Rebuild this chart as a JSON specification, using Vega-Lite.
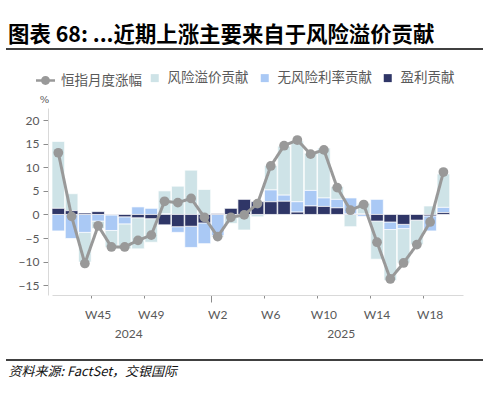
{
  "$schema": "https://vega.github.io/schema/vega-lite/v6.json",
  "width": 411,
  "height": 187,
  "autosize": {"type": "none"},
  "padding": {"left": 52, "top": 108, "right": 25, "bottom": 99},
  "background": "white",
  "config": {"view": {"stroke": null}, "font": "Lato"},
  "title": {
    "text": "图表 68: ...近期上涨主要来自于风险溢价贡献",
    "anchor": "start",
    "frame": "group",
    "dx": -44,
    "offset": -9,
    "baseline": "middle",
    "font": "Noto Sans CJK SC",
    "fontSize": 21.4,
    "fontWeight": "bold",
    "color": "#000000"
  },
  "datasets": {
    "weeks": [
      {"w": "W42", "hsi": 13.1, "风险溢价贡献": 14.2, "无风险利率贡献": -3.5, "盈利贡献": 1.3},
      {"w": "W43", "hsi": -0.4, "风险溢价贡献": 3.6, "无风险利率贡献": -5.1, "盈利贡献": 0.8},
      {"w": "W44", "hsi": -10.4, "风险溢价贡献": -6.3, "无风险利率贡献": -3.8, "盈利贡献": 0.3},
      {"w": "W45", "hsi": -2.4, "风险溢价贡献": -1.6, "无风险利率贡献": -1.4, "盈利贡献": 0.6},
      {"w": "W46", "hsi": -6.9, "风险溢价贡献": -3.6, "无风险利率贡献": -3.3, "盈利贡献": -0.1},
      {"w": "W47", "hsi": -6.9, "风险溢价贡献": -5.3, "无风险利率贡献": -1.5, "盈利贡献": -0.5},
      {"w": "W48", "hsi": -5.5, "风险溢价贡献": -6.6, "无风险利率贡献": 1.6, "盈利贡献": -0.7},
      {"w": "W49", "hsi": -4.4, "风险溢价贡献": -5.0, "无风险利率贡献": 1.3, "盈利贡献": -0.9},
      {"w": "W50", "hsi": 2.8, "风险溢价贡献": 4.8, "无风险利率贡献": 0.2, "盈利贡献": -2.2},
      {"w": "W51", "hsi": 2.5, "风险溢价贡献": 6.0, "无风险利率贡献": -1.2, "盈利贡献": -2.6},
      {"w": "W52", "hsi": 3.4, "风险溢价贡献": 9.4, "无风险利率贡献": -4.5, "盈利贡献": -2.5},
      {"w": "W1", "hsi": -0.6, "风险溢价贡献": 5.3, "无风险利率贡献": -4.4, "盈利贡献": -1.8},
      {"w": "W2", "hsi": -4.7, "风险溢价贡献": -0.3, "无风险利率贡献": -4.5, "盈利贡献": 0.2},
      {"w": "W3", "hsi": -0.6, "风险溢价贡献": -1.9, "无风险利率贡献": 0.0, "盈利贡献": 1.3},
      {"w": "W4", "hsi": -0.1, "风险溢价贡献": -3.3, "无风险利率贡献": 0.0, "盈利贡献": 3.2},
      {"w": "W5", "hsi": 2.3, "风险溢价贡献": -0.5, "无风险利率贡献": 0.0, "盈利贡献": 2.7},
      {"w": "W6", "hsi": 10.3, "风险溢价贡献": 5.2, "无风险利率贡献": 2.5, "盈利贡献": 2.7},
      {"w": "W7", "hsi": 14.6, "风险溢价贡献": 10.4, "无风险利率贡献": 1.3, "盈利贡献": 2.8},
      {"w": "W8", "hsi": 15.8, "风险溢价贡献": 12.9, "无风险利率贡献": 2.2, "盈利贡献": 0.5},
      {"w": "W9", "hsi": 12.8, "风险溢价贡献": 7.9, "无风险利率贡献": 3.3, "盈利贡献": 1.8},
      {"w": "W10", "hsi": 13.7, "风险溢价贡献": 10.6, "无风险利率贡献": 1.8, "盈利贡献": 1.7},
      {"w": "W11", "hsi": 5.7, "风险溢价贡献": 2.7, "无风险利率贡献": 1.8, "盈利贡献": 1.4},
      {"w": "W12", "hsi": 0.9, "风险溢价贡献": -2.6, "无风险利率贡献": 3.4, "盈利贡献": 0.1},
      {"w": "W13", "hsi": 2.1, "风险溢价贡献": 2.3, "无风险利率贡献": -0.4, "盈利贡献": 0.1},
      {"w": "W14", "hsi": -5.9, "风险溢价贡献": -8.1, "无风险利率贡献": 3.2, "盈利贡献": -1.4},
      {"w": "W15", "hsi": -13.7, "风险溢价贡献": -10.8, "无风险利率贡献": -1.6, "盈利贡献": -1.6},
      {"w": "W16", "hsi": -10.3, "风险溢价贡献": -7.3, "无风险利率贡献": -0.9, "盈利贡献": -2.1},
      {"w": "W17", "hsi": -6.4, "风险溢价贡献": -5.2, "无风险利率贡献": 0.0, "盈利贡献": -1.2},
      {"w": "W18", "hsi": -1.6, "风险溢价贡献": 1.8, "无风险利率贡献": -3.2, "盈利贡献": -0.3},
      {"w": "W19", "hsi": 9.0, "风险溢价贡献": 7.1, "无风险利率贡献": 1.1, "盈利贡献": 0.4}
    ],
    "ranks": [
      {"series": "盈利贡献", "rank": 1},
      {"series": "无风险利率贡献", "rank": 2},
      {"series": "风险溢价贡献", "rank": 3}
    ],
    "rules": [{"k": 0}, {"k": 1}]
  },
  "layer": [
    {
      "data": {"name": "weeks"},
      "layer": [
        {
          "transform": [
            {"fold": ["风险溢价贡献", "无风险利率贡献", "盈利贡献"], "as": ["series", "value"]},
            {"lookup": "series", "from": {"data": {"name": "ranks"}, "key": "series", "fields": ["rank"]}}
          ],
          "mark": {"type": "bar", "stroke": "white", "strokeWidth": 0.7},
          "encoding": {
            "x": {
              "field": "w", "type": "nominal", "sort": null,
              "title": "资料来源: FactSet，交银国际",
              "scale": {
                "domain": ["W42","W43","W44","W45","W46","W47","W48","W49","W50","W51","W52","W1","W2","W3","W4","W5","W6","W7","W8","W9","W10","W11","W12","W13","W14","W15","W16","W17","W18","W19","W20"],
                "paddingInner": 0.05, "paddingOuter": 0
              },
              "axis": {
                "values": ["W45","W47","W49","W2","W6","W10","W11","W14","W18"],
                "bandPosition": 0,
                "labelExpr": "datum.value === 'W47' ? '2024' : datum.value === 'W11' ? '2025' : datum.value",
                "labelAngle": 0,
                "labelAlign": "center",
                "labelBaseline": "middle",
                "labelOverlap": false,
                "labelBound": false,
                "labelFlush": false,
                "labelFont": "Lato",
                "labelFontSize": 12,
                "labelColor": "#595959",
                "labelOffset": {"condition": {"test": "datum.value === 'W47' || datum.value === 'W11'", "value": 4}, "value": 0},
                "labelPadding": {"condition": [
                  {"test": "datum.value === 'W47' || datum.value === 'W11'", "value": 35},
                  {"test": "datum.value === 'W2'", "value": 12}
                ], "value": 16},
                "tickSize": {"condition": {"test": "datum.value === 'W2'", "value": 7}, "value": 3},
                "tickOpacity": {"condition": {"test": "datum.value === 'W47' || datum.value === 'W11'", "value": 0}, "value": 1},
                "tickColor": "#8c8c8c",
                "tickWidth": 1,
                "domainColor": "#d9d9d9",
                "domainWidth": 1,
                "grid": false,
                "titleX": -44,
                "titleY": 76,
                "titleAlign": "left",
                "titleAnchor": "start",
                "titleBaseline": "middle",
                "titleFont": "Noto Sans CJK SC",
                "titleFontSize": 13,
                "titleFontStyle": "italic",
                "titleFontWeight": "normal",
                "titleColor": "#111111"
              }
            },
            "y": {
              "field": "value", "type": "quantitative", "title": "%",
              "scale": {"domain": [-17.1, 22.6], "nice": false, "zero": false},
              "axis": {
                "tickCount": 8,
                "offset": 4,
                "grid": false,
                "labelOverlap": false,
                "labelBound": false,
                "labelFlush": false,
                "labelFont": "Lato",
                "labelFontSize": 12,
                "labelColor": "#595959",
                "labelPadding": 4,
                "tickSize": 5,
                "tickColor": "#8c8c8c",
                "domainColor": "#d9d9d9",
                "titleAngle": 0,
                "titleX": -4,
                "titleY": -9,
                "titleAlign": "center",
                "titleBaseline": "middle",
                "titleFont": "DejaVu Serif",
                "titleFontSize": 10,
                "titleFontWeight": "normal",
                "titleColor": "#595959"
              }
            },
            "color": {
              "field": "series", "type": "nominal",
              "scale": {
                "domain": ["风险溢价贡献", "无风险利率贡献", "盈利贡献"],
                "range": ["#cee3e7", "#aac9f5", "#2f3667"]
              },
              "legend": {
                "orient": "none",
                "legendX": 96,
                "legendY": -37,
                "direction": "horizontal",
                "title": null,
                "labelFont": "Noto Sans CJK SC",
                "labelFontSize": 13.5,
                "labelColor": "#595959",
                "symbolType": "square",
                "symbolSize": 64,
                "symbolStrokeWidth": 0,
                "columnPadding": 9,
                "labelOffset": 6
              }
            },
            "order": {"field": "rank", "type": "quantitative"}
          }
        },
        {
          "mark": {"type": "line", "color": "#999999", "strokeWidth": 3, "point": {"filled": true, "size": 95, "opacity": 1, "color": "#999999"}},
          "encoding": {
            "x": {"field": "w", "type": "nominal", "sort": null, "title": "资料来源: FactSet，交银国际"},
            "y": {"field": "hsi", "type": "quantitative", "title": "%", "scale": {"domain": [-17.1, 22.6], "nice": false, "zero": false}},
            "strokeDash": {
              "datum": "恒指月度涨幅",
              "scale": {"domain": ["恒指月度涨幅"], "range": [[1, 0]]},
              "legend": {
                "orient": "none",
                "legendX": -16,
                "legendY": -37,
                "title": null,
                "labelFont": "Noto Sans CJK SC",
                "labelFontSize": 13.5,
                "labelColor": "#595959",
                "symbolType": "M-1,-0.13H1V0.13H-1Z M-0.47,0A0.47,0.47 0 1,1 0.47,0A0.47,0.47 0 1,1 -0.47,0Z",
                "symbolSize": 361,
                "symbolStrokeWidth": 0,
                "symbolFillColor": "#999999",
                "symbolStrokeColor": "#999999",
                "symbolDash": [1, 0],
                "labelOffset": 6
              }
            }
          }
        }
      ]
    },
    {
      "data": {"name": "rules"},
      "mark": {"type": "rule", "color": "#000000", "strokeWidth": 1.3},
      "encoding": {
        "x": {"datum": 0, "type": "quantitative", "scale": {"domain": [0, 1], "range": [-46, 431]}, "axis": null},
        "x2": {"datum": 1},
        "y": {"field": "k", "type": "quantitative", "scale": {"domain": [0, 1], "range": [252, -59]}, "axis": null}
      }
    }
  ],
  "resolve": {"scale": {"x": "independent", "y": "independent"}}
}
